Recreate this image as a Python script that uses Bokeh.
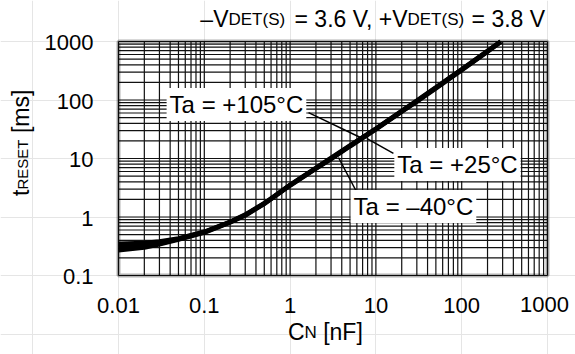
import math
from bokeh.plotting import figure
from bokeh.models import Range1d, Label, BoxAnnotation
from bokeh.embed import file_html
from bokeh.resources import INLINE

# ---------------- data ----------------
cap_nf = [0.01, 0.02, 0.03, 0.05, 0.1, 0.2, 0.3, 0.5, 1, 2, 3, 5, 10, 20, 30, 50, 100, 200, 285]
t_m40 = [0.35, 0.36, 0.38, 0.43, 0.56, 0.83, 1.1, 1.72, 3.55, 6.9, 10.2, 16.8, 32.5, 65, 98, 165, 335, 690, 1000]
t_p25 = [0.31, 0.33, 0.36, 0.42, 0.55, 0.82, 1.08, 1.7, 3.5, 6.8, 10.0, 16.5, 32, 64, 96, 162, 330, 680, 995]
t_p105 = [0.27, 0.30, 0.34, 0.41, 0.54, 0.81, 1.06, 1.68, 3.45, 6.7, 9.8, 16.2, 31.5, 63, 94, 158, 325, 670, 985]

x_ticks = [0.01, 0.1, 1, 10, 100, 1000]
x_tick_labels = ["0.01", "0.1", "1", "10", "100", "1000"]
y_ticks = [0.1, 1, 10, 100, 1000]
y_tick_labels = ["0.1", "1", "10", "100", "1000"]
x_minor = [m * 10.0 ** e for e in range(-2, 3) for m in range(2, 10)]
y_minor = [m * 10.0 ** e for e in range(-1, 3) for m in range(2, 10)]

series_names = ["Ta = –40°C", "Ta = +25°C", "Ta = +105°C"]

# annotation anchors (data coords): label centre, leader start, leader end
ann_label_pos = [(27.4, 1.51), (89.3, 7.9), (0.237, 83.7)]
ann_leader = [((6.1, 2.52), (3.66, 10.4)), ((16.0, 12.2), (7.8, 22.0)), ((1.64, 61.0), (6.6, 22.9))]

# ---------------- layout ----------------
W, H = 575, 354
BOX_L, BOX_R, BOX_T, BOX_B = 118, 547, 41, 275   # pixel box of the plotting area
FONT = "Liberation Sans"
TICK = 22
BIG = 23
SMALL = 17
SMALL_Y = 15

lx, rx = math.log10(x_ticks[0]), math.log10(x_ticks[-1])
ly, uy = math.log10(y_ticks[0]), math.log10(y_ticks[-1])
dpx = (BOX_R - BOX_L) / (rx - lx)
dpy = (BOX_B - BOX_T) / (uy - ly)
x_range = Range1d(10 ** (lx - BOX_L / dpx), 10 ** (rx + (W - BOX_R) / dpx))
y_range = Range1d(10 ** (ly - (H - BOX_B) / dpy), 10 ** (uy + BOX_T / dpy))

p = figure(width=W, height=H, x_axis_type="log", y_axis_type="log",
           x_axis_location=None, y_axis_location=None,
           x_range=x_range, y_range=y_range,
           min_border=0, min_border_left=0, min_border_right=0, min_border_top=0, min_border_bottom=0,
           output_backend="svg", toolbar_location=None)
p.title.visible = False
p.background_fill_color = "white"
p.border_fill_color = "white"
p.outline_line_color = None

# grid (major + minor), limited to the plotting box
gx = x_ticks + x_minor
gy = y_ticks + y_minor
p.segment(x0=gx, y0=[y_ticks[0]] * len(gx), x1=gx, y1=[y_ticks[-1]] * len(gx),
          line_color="#111111", line_width=1.2)
p.segment(x0=[x_ticks[0]] * len(gy), y0=gy, x1=[x_ticks[-1]] * len(gy), y1=gy,
          line_color="#111111", line_width=1.2)

# curves
for ys in (t_m40, t_p25, t_p105):
    p.line(cap_nf, ys, line_width=4.5, line_color="black")

# leader lines
for (x0, y0), (x1, y1) in ann_leader:
    p.line([x0, x1], [y0, y1], line_width=1.5, line_color="black")

# frame box
p.add_layout(BoxAnnotation(left=x_ticks[0], right=x_ticks[-1], bottom=y_ticks[0], top=y_ticks[-1],
                           fill_color=None, line_color="black", line_width=4))

# annotation labels
for name, (lx_, ly_) in zip(series_names, ann_label_pos):
    p.add_layout(Label(x=lx_, y=ly_, text=name, text_align="center", text_baseline="middle",
                       text_font=FONT, text_font_size="24px", text_color="black",
                       background_fill_color="white", padding=3))

# tick labels
for i, (tv, tl) in enumerate(zip(x_ticks, x_tick_labels)):
    last = i == len(x_ticks) - 1
    p.add_layout(Label(x=tv, y=y_ticks[0], text=tl, text_align="center", text_baseline="middle",
                       x_offset=-3 if last else 0, y_offset=-28.5 if last else -30,
                       text_font=FONT, text_font_size=f"{TICK}px", text_color="black"))
for tv, tl in zip(y_ticks, y_tick_labels):
    p.add_layout(Label(x=x_ticks[0], y=tv, text=tl, text_align="right", text_baseline="middle",
                       x_offset=-25, y_offset=-1,
                       text_font=FONT, text_font_size=f"{TICK}px", text_color="black"))

# ---------------- mixed-size texts ----------------
CW = {" ": 278, "(": 333, ")": 333, "+": 584, ",": 278, ".": 278, "=": 584, "[": 278, "]": 278,
      "A": 667, "C": 722, "D": 722, "E": 667, "F": 611, "N": 722, "R": 722, "S": 667, "T": 611,
      "V": 667, "a": 556, "m": 833, "n": 556, "s": 500, "t": 278, "°": 400, "–": 556}


def tw(s, size):
    return sum(CW.get(ch, 556) for ch in s) * size / 1000.0


MID = 0.3465  # distance from baseline to the "middle" anchor, in em


def piece(text, size, at, base, align, vertical=False, lift=0.0):
    """at: position along the writing direction (window px), base: baseline (window px)."""
    kw = dict(text=text, x_units="screen", y_units="screen", text_font=FONT,
              text_font_size=f"{size}px", text_color="black",
              text_baseline="middle", text_align=align)
    m = MID * size + lift
    if vertical:
        p.add_layout(Label(x=base - m, y=H - at, angle=math.pi / 2, **kw))
    else:
        p.add_layout(Label(x=at, y=H - (base - m), **kw))


# title  –VDET(S) = 3.6 V, +VDET(S) = 3.8 V
TB = 26
J1, J3 = 228, 407
piece("–V", BIG, J1, TB, "right")
piece("DET(S)", SMALL, J1, TB, "left", lift=1)
piece("= 3.6 V, +V", BIG, J3, TB, "right")
piece("DET(S)", SMALL, J3, TB, "left", lift=1)
piece("= 3.8 V", BIG, J3 + tw("DET(S)", SMALL) + tw(" ", BIG) + 1, TB, "left")

# x label  CN [nF]
XB = 339
JX = 304
piece("C", BIG, JX, XB, "right")
piece("N", SMALL, JX, XB, "left", lift=1)
piece("[nF]", BIG, JX + tw("N", SMALL) + tw(" ", BIG), XB, "left")

# y label  tRESET [ms]  (reads bottom to top)
YB = 28
JY = 189
piece("t", BIG, JY, YB, "right", vertical=True)
piece("RESET", SMALL_Y, JY, YB, "left", vertical=True, lift=1)
piece("[ms]", BIG, JY - tw("RESET", SMALL_Y) - tw(" ", BIG), YB, "left", vertical=True)

open("out.html", "w").write(file_html(p, INLINE))
